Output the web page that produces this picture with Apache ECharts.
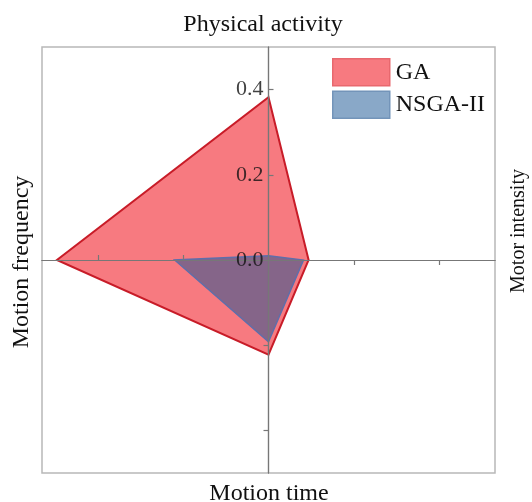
<!DOCTYPE html>
<html><head><meta charset="utf-8">
<script src="https://cdn.jsdelivr.net/npm/echarts@6/dist/echarts.min.js"></script>
<style>html,body{margin:0;padding:0;background:#fff}#c{width:532px;height:502px}</style>
</head><body><div id="c"></div>
<script>
// Radar axes (clockwise from top)
const indicators = ['Physical activity', 'Motor intensity', 'Motion time', 'Motion frequency'];
const seriesNames = ['GA', 'NSGA-II'];
// values in indicator order: [Physical activity, Motor intensity, Motion time, Motion frequency]
const gaValues = [0.382, 0.094, 0.222, 0.496];
const nsgaValues = [0.010, 0.082, 0.192, 0.220];
const tickLabels = [0.0, 0.2, 0.4];
const tickValues = [0.2, 0.4];

const FONT = '"Liberation Serif", "Times New Roman", serif';
const axisColor = '#777777';
const negTicks = tickValues.map(v => -v);

function renderPolygon(params, api) {
  const pa = api.value(0), mi = api.value(1), mt = api.value(2), mf = api.value(3);
  const pts = [api.coord([0, pa]), api.coord([mi, 0]), api.coord([0, -mt]), api.coord([-mf, 0])];
  return { type: 'polygon', shape: { points: pts }, style: api.style() };
}

const chart = echarts.init(document.getElementById('c'), null, { renderer: 'canvas' });
const xCommon = { type: 'value', position: 'bottom', min: -0.531, max: 0.531, splitLine: { show: false }, z: 10, axisLabel: { show: false } };
const yCommon = { type: 'value', position: 'left', min: -0.5, max: 0.5, splitLine: { show: false }, z: 10, axisLabel: { show: false } };
const lineStyle = { color: axisColor, width: 1.2 };
chart.setOption({
  animation: false,
  backgroundColor: '#fff',
  grid: { left: 42, right: 37, top: 47, bottom: 29, show: true, borderColor: '#b8b8b8', borderWidth: 1.5, backgroundColor: 'transparent' },
  legend: {
    data: [
      { name: seriesNames[0], itemStyle: { color: 'rgb(247,122,128)', borderColor: 'rgb(232,104,110)', borderWidth: 1.5 } },
      { name: seriesNames[1], itemStyle: { color: 'rgb(137,168,200)', borderColor: 'rgb(115,148,185)', borderWidth: 1.5 } }
    ],
    orient: 'vertical', left: 332, top: 58, padding: 0,
    itemWidth: 57, itemHeight: 27, itemGap: 4, icon: 'rect',
    textStyle: { fontFamily: FONT, fontSize: 24, color: '#111', padding: [0, 0, 0, 1] }
  },
  xAxis: [
    Object.assign({}, xCommon, {
      axisLine: { onZero: true, onZeroAxisIndex: 0, lineStyle },
      axisTick: { inside: true, length: 5, customValues: negTicks, lineStyle } }),
    Object.assign({}, xCommon, {
      axisLine: { onZero: true, onZeroAxisIndex: 0, lineStyle },
      axisTick: { inside: false, length: 5, customValues: tickValues, lineStyle } })
  ],
  yAxis: [
    Object.assign({}, yCommon, {
      axisLine: { onZero: true, onZeroAxisIndex: 0, lineStyle },
      axisTick: { inside: true, length: 5, customValues: tickValues, lineStyle } }),
    Object.assign({}, yCommon, {
      axisLine: { onZero: true, onZeroAxisIndex: 0, lineStyle },
      axisTick: { inside: false, length: 5, customValues: negTicks, lineStyle } })
  ],
  series: [
    { name: seriesNames[0], type: 'custom', renderItem: renderPolygon, z: 2,
      xAxisIndex: 0, yAxisIndex: 0, encode: { x: 1, y: 0 },
      itemStyle: { color: 'rgb(247,122,128)', borderColor: 'rgb(200,28,40)', borderWidth: 2 },
      data: [gaValues] },
    { name: seriesNames[1], type: 'custom', renderItem: renderPolygon, z: 3,
      xAxisIndex: 0, yAxisIndex: 0, encode: { x: 1, y: 0 },
      itemStyle: { color: 'rgba(20,80,145,0.5)', borderColor: 'rgb(95,110,170)', borderWidth: 1.5 },
      data: [nsgaValues] },
    { name: 'tick labels', type: 'scatter', symbolSize: 0, silent: true, z: 12,
      xAxisIndex: 0, yAxisIndex: 0,
      data: tickLabels.map(v => [0, v]),
      label: { show: true, position: 'left', distance: 5, formatter: p => Number(p.value[1]).toFixed(1),
        fontFamily: FONT, fontSize: 22, color: '#111' } }
  ],
  graphic: [
    { type: 'text', x: 263, y: 25, style: { text: indicators[0], font: '24px ' + FONT, fill: '#111', align: 'center', verticalAlign: 'middle' } },
    { type: 'text', x: 519, y: 231, rotation: Math.PI / 2, style: { text: indicators[1], font: '20px ' + FONT, fill: '#111', align: 'center', verticalAlign: 'middle' } },
    { type: 'text', x: 269, y: 494, style: { text: indicators[2], font: '24px ' + FONT, fill: '#111', align: 'center', verticalAlign: 'middle' } },
    { type: 'text', x: 22, y: 262, rotation: Math.PI / 2, style: { text: indicators[3], font: '24px ' + FONT, fill: '#111', align: 'center', verticalAlign: 'middle' } }
  ]
});
</script></body></html>
